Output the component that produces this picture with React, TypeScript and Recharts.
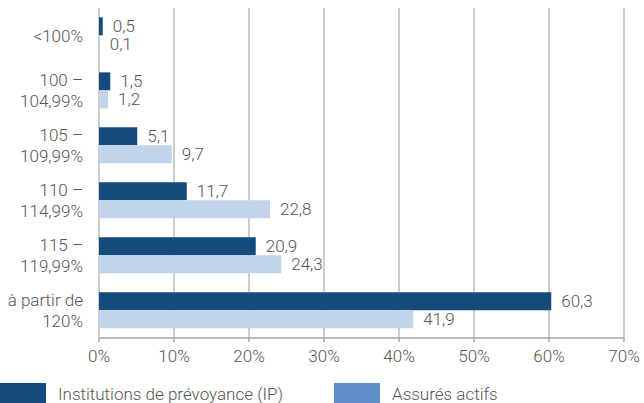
import React from 'react';
import { BarChart, Bar, XAxis, YAxis, CartesianGrid, Legend, LabelList } from 'recharts';

const categories = ['<100%', '100 –\n104,99%', '105 –\n109,99%', '110 –\n114,99%', '115 –\n119,99%', 'à partir de\n120%'];
const ipValues = [0.5, 1.5, 5.1, 11.7, 20.9, 60.3];
const activeValues = [0.1, 1.2, 9.7, 22.8, 24.3, 41.9];
const xTicks = [0, 10, 20, 30, 40, 50, 60, 70];

const seriesNames = ['Institutions de prévoyance (IP)', 'Assurés actifs'];
const barColors = ['#144a7c', '#c2d4ec'];
const legendColors = ['#144a7c', '#5e8fcb'];

const data = categories.map((category, i) => ({
  category,
  ip: ipValues[i],
  active: activeValues[i],
}));

const FONT = 'Roboto, "Noto Sans", sans-serif';
const TEXT = '#555555';
const SIZE = 17;

const formatValue = (v: any) => String(v).replace('.', ',');

// multi-line category labels on the left
const CategoryTick = (props: any) => {
  const { x, y, payload } = props;
  const lines = String(payload.value).split('\n');
  const lineHeight = 21;
  const start = -((lines.length - 1) * lineHeight) / 2;
  return (
    <text x={x} y={y} textAnchor="end" fill={TEXT} fontSize={SIZE} fontFamily={FONT} fontWeight={300}>
      {lines.map((line, i) => (
        <tspan key={i} x={x} dy={i === 0 ? start + 6 : lineHeight}>
          {line}
        </tspan>
      ))}
    </text>
  );
};

const renderLegend = () => (
  <div style={{ position: 'relative', height: 35, fontFamily: FONT, fontWeight: 300, fontSize: SIZE, color: TEXT }}>
    {seriesNames.map((name, i) => (
      <div key={name} style={{ position: 'absolute', left: i === 0 ? 0 : 334, top: 15, display: 'flex', alignItems: 'center' }}>
        <div style={{ width: 46, height: 22, background: legendColors[i] }} />
        <span style={{ marginLeft: 12, whiteSpace: 'nowrap' }}>{name}</span>
      </div>
    ))}
  </div>
);

export default function App() {
  return (
    <div style={{ width: 644, height: 403, overflow: 'hidden' }}>
      <style>{`body { margin: 0; }`}</style>
      <BarChart
        width={644}
        height={403}
        data={data}
        layout="vertical"
        margin={{ top: 8, right: 20, bottom: 0, left: 0 }}
        barCategoryGap="17%"
        barGap={0}
      >
        <CartesianGrid horizontal={false} vertical stroke="#bdbdbd" strokeWidth={1.5} />
        <XAxis
          type="number"
          domain={[0, 70]}
          ticks={xTicks}
          tickFormatter={(v) => `${v}%`}
          height={30}
          axisLine={{ stroke: '#a6a6a6', strokeWidth: 1.5 }}
          tickLine={{ stroke: '#a6a6a6', strokeWidth: 1.5 }}
          tickSize={4}
          tickMargin={8}
          tick={{ fill: TEXT, fontSize: SIZE, fontFamily: FONT, fontWeight: 300 }}
        />
        <YAxis
          type="category"
          dataKey="category"
          width={99}
          axisLine={false}
          tickLine={false}
          tickMargin={10}
          tick={<CategoryTick />}
        />
        <Legend verticalAlign="bottom" align="left" content={renderLegend} />
        <Bar dataKey="ip" name={seriesNames[0]} fill={barColors[0]} isAnimationActive={false}>
          <LabelList
            dataKey="ip"
            position="right"
            offset={10}
            formatter={formatValue}
            fill={TEXT}
            fontSize={SIZE}
            fontFamily={FONT}
            fontWeight={300}
          />
        </Bar>
        <Bar dataKey="active" name={seriesNames[1]} fill={barColors[1]} isAnimationActive={false}>
          <LabelList
            dataKey="active"
            position="right"
            offset={10}
            formatter={formatValue}
            fill={TEXT}
            fontSize={SIZE}
            fontFamily={FONT}
            fontWeight={300}
          />
        </Bar>
      </BarChart>
    </div>
  );
}
